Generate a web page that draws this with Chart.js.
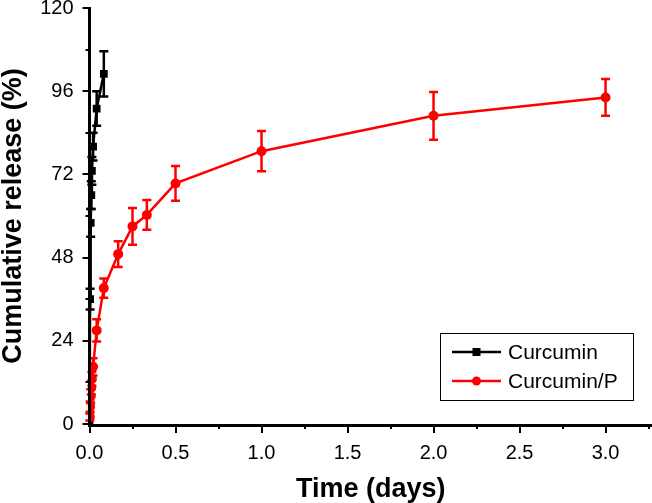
<!DOCTYPE html>
<html>
<head>
<meta charset="utf-8">
<script src="https://cdn.jsdelivr.net/npm/chart.js@4.4.1/dist/chart.umd.min.js"></script>
<style>
  html, body { margin: 0; padding: 0; background: #fff; }
  #wrap { width: 652px; height: 503px; }
</style>
</head>
<body>
<div id="wrap"><canvas id="grafico"></canvas></div>
<script>
// dados (tempo em dias, liberação em %)
const tempoCurcumin = [0, 0.0035, 0.0069, 0.0104, 0.0139, 0.0208, 0.0417, 0.0833];
const liberacaoCurcumin = [0, 36, 58, 66, 73, 80, 91, 101];
const erroCurcumin = [0, 3, 4, 4, 4, 4, 5, 6.5];

const tempoCurcuminP = [0.0017, 0.0035, 0.0069, 0.0104, 0.0139, 0.0208, 0.0417, 0.0833, 0.1667, 0.25, 0.3333, 0.5, 1, 2, 3];
const liberacaoCurcuminP = [2, 5, 8, 10.5, 13, 16.5, 27, 39.2, 49, 57, 60.3, 69.4, 78.7, 88.9, 94.2];
const erroCurcuminP = [1, 1.5, 2, 2, 2, 2.5, 3.2, 2.8, 3.7, 5.3, 4.3, 5, 5.8, 6.9, 5.3];

const ticksY = [0, 24, 48, 72, 96, 120];
const ticksX = [0, 0.5, 1, 1.5, 2, 2.5, 3];

const fonte = '"Liberation Sans", Arial, sans-serif';

function pontos(xs, ys) {
    return xs.map((x, i) => ({ x: x, y: ys[i] }));
}

// barras de erro desenhadas pelas escalas
const barrasErro = {
    id: 'barrasErro',
    afterDatasetsDraw(chart) {
        const ctx = chart.ctx;
        const sx = chart.scales.x, sy = chart.scales.y;
        chart.data.datasets.forEach((ds) => {
            const erros = ds.erros;
            ctx.save();
            ctx.strokeStyle = ds.borderColor;
            ctx.lineWidth = 2.5;
            ds.data.forEach((p, i) => {
                const e = erros[i];
                if (!e) return;
                const px = sx.getPixelForValue(p.x);
                const y1 = sy.getPixelForValue(p.y + e);
                const y2 = sy.getPixelForValue(p.y - e);
                ctx.beginPath();
                ctx.moveTo(px, y1); ctx.lineTo(px, y2);
                ctx.moveTo(px - 4.5, y1); ctx.lineTo(px + 4.5, y1);
                ctx.moveTo(px - 4.5, y2); ctx.lineTo(px + 4.5, y2);
                ctx.stroke();
            });
            ctx.restore();
        });
    }
};

// ticks menores e eixos grossos
const eixos = {
    id: 'eixos',
    afterDraw(chart) {
        const ctx = chart.ctx;
        const a = chart.chartArea;
        const sx = chart.scales.x, sy = chart.scales.y;
        ctx.save();
        ctx.strokeStyle = '#000';
        ctx.lineWidth = 2;
        ctx.beginPath();
        for (let v = 12; v < 120; v += 24) {
            const py = Math.round(sy.getPixelForValue(v));
            ctx.moveTo(a.left, py); ctx.lineTo(a.left - 4, py);
        }
        for (let v = 0.25; v < 3.3; v += 0.5) {
            const px = Math.round(sx.getPixelForValue(v));
            ctx.moveTo(px, a.bottom); ctx.lineTo(px, a.bottom + 5);
        }
        ctx.stroke();
        ctx.lineWidth = 3;
        ctx.beginPath();
        ctx.moveTo(a.left, a.top - 1); ctx.lineTo(a.left, a.bottom + 1.5);
        ctx.lineTo(a.right, a.bottom + 1.5);
        ctx.stroke();
        ctx.restore();
    }
};

// legenda em caixa
const legendaCaixa = {
    id: 'legendaCaixa',
    afterDraw(chart) {
        const ctx = chart.ctx;
        const x0 = 440, y0 = 333, w = 193, h = 67;
        ctx.save();
        ctx.strokeStyle = '#000';
        ctx.lineWidth = 1;
        ctx.strokeRect(x0 + 0.5, y0 + 0.5, w, h);
        ctx.font = '21px ' + fonte;
        ctx.textBaseline = 'middle';
        chart.data.datasets.forEach((ds, i) => {
            const yy = y0 + 19 + i * 29;
            ctx.strokeStyle = ds.borderColor;
            ctx.fillStyle = ds.borderColor;
            ctx.lineWidth = 2.5;
            ctx.beginPath();
            ctx.moveTo(452, yy); ctx.lineTo(501, yy);
            ctx.stroke();
            if (ds.pointStyle === 'rect') {
                ctx.fillRect(476.5 - 4, yy - 4, 8, 8);
            } else {
                ctx.beginPath();
                ctx.arc(476.5, yy, 4.5, 0, Math.PI * 2);
                ctx.fill();
            }
            ctx.fillStyle = '#000';
            ctx.fillText(ds.label, 508, yy + 1);
        });
        ctx.restore();
    }
};

const ctx = document.getElementById('grafico').getContext('2d');
new Chart(ctx, {
    type: 'line',
    data: {
        datasets: [
            {
                label: 'Curcumin',
                data: pontos(tempoCurcumin, liberacaoCurcumin),
                erros: erroCurcumin,
                borderColor: '#000000',
                backgroundColor: '#000000',
                borderWidth: 2.5,
                pointStyle: 'rect',
                pointRadius: 5.5,
                pointBorderWidth: 0,
                tension: 0
            },
            {
                label: 'Curcumin/P',
                data: pontos(tempoCurcuminP, liberacaoCurcuminP),
                erros: erroCurcuminP,
                borderColor: '#FF0000',
                backgroundColor: '#FF0000',
                borderWidth: 2.5,
                pointStyle: 'circle',
                pointRadius: 5,
                pointBorderWidth: 0,
                tension: 0
            }
        ]
    },
    options: {
        responsive: true,
        maintainAspectRatio: false,
        animation: false,
        layout: { autoPadding: false, padding: { top: 8, right: 0, left: 0, bottom: 0 } },
        plugins: {
            legend: { display: false },
            tooltip: { enabled: false }
        },
        scales: {
            x: {
                type: 'linear',
                min: 0,
                max: 3.27,
                afterFit(scale) { scale.height = 79; scale.paddingRight = 0; scale.paddingLeft = 0; },
                afterBuildTicks(scale) { scale.ticks = ticksX.map(v => ({ value: v })); },
                border: { display: false },
                grid: { drawOnChartArea: false, color: '#000', lineWidth: 2, tickLength: 9 },
                ticks: {
                    color: '#000',
                    padding: 8,
                    font: { family: fonte, size: 20 },
                    callback: v => v.toFixed(1)
                },
                title: {
                    display: true,
                    text: 'Time (days)',
                    color: '#000',
                    font: { family: fonte, size: 27, weight: 'bold', lineHeight: 1 },
                    padding: { top: 0, bottom: 0 }
                }
            },
            y: {
                type: 'linear',
                min: 0,
                max: 120,
                afterFit(scale) { scale.width = 89.5; scale.paddingTop = 0; scale.paddingBottom = 0; },
                afterBuildTicks(scale) { scale.ticks = ticksY.map(v => ({ value: v })); },
                border: { display: false },
                grid: { drawOnChartArea: false, color: '#000', lineWidth: 2, tickLength: 7 },
                ticks: {
                    color: '#000',
                    padding: 9,
                    font: { family: fonte, size: 20 }
                },
                title: {
                    display: true,
                    text: 'Cumulative release (%)',
                    color: '#000',
                    font: { family: fonte, size: 27, weight: 'bold', lineHeight: 1 },
                    padding: { top: 0, bottom: 0 }
                }
            }
        }
    },
    plugins: [barrasErro, eixos, legendaCaixa]
});
</script>
</body>
</html>
